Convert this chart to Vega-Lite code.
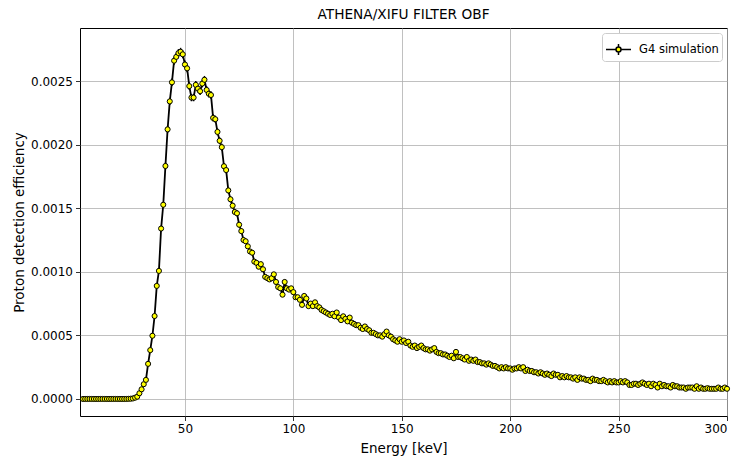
{
  "$schema": "https://vega.github.io/schema/vega-lite/v6.json",
  "width": 647,
  "height": 388,
  "autosize": {"type": "none"},
  "padding": {"left": 80, "top": 28, "right": 9, "bottom": 41},
  "background": "white",
  "config": {
    "font": "DejaVu Sans",
    "view": {"stroke": "black", "strokeWidth": 1},
    "axis": {
      "labelFont": "DejaVu Sans", "labelFontSize": 12, "labelColor": "black",
      "titleFont": "DejaVu Sans", "titleFontSize": 13.5, "titleFontWeight": "normal", "titleColor": "black",
      "tickColor": "black", "tickSize": 4.5, "tickWidth": 0.8,
      "gridColor": "#b0b0b0", "gridWidth": 0.8, "domain": false, "labelPadding": 3
    },
    "legend": {"labelFont": "DejaVu Sans", "labelFontSize": 11.5, "labelColor": "black"}
  },
  "title": {"text": "ATHENA/XIFU FILTER OBF", "fontSize": 13.7, "fontWeight": "normal", "font": "DejaVu Sans", "color": "black", "offset": 6},
  "data": {"values": [
    {"E":3,"v":0},{"E":4,"v":0},{"E":5,"v":0},{"E":6,"v":0},{"E":7,"v":0},{"E":8,"v":0},{"E":9,"v":0},{"E":10,"v":0},
    {"E":11,"v":0},{"E":12,"v":0},{"E":13,"v":0},{"E":14,"v":0},{"E":15,"v":0},{"E":16,"v":0},{"E":17,"v":0},{"E":18,"v":0},
    {"E":19,"v":0},{"E":20,"v":0},{"E":21,"v":0},{"E":22,"v":0},{"E":23,"v":0},{"E":24,"v":0.000001},{"E":25,"v":0.000002},
    {"E":26,"v":0.000004},{"E":27,"v":0.00001},{"E":28,"v":0.000018},{"E":29,"v":0.000045},{"E":30,"v":0.000076},
    {"E":31,"v":0.000116},{"E":32,"v":0.00015},{"E":33,"v":0.000276,"e":0.00001},{"E":34,"v":0.000384,"e":0.000012},
    {"E":35,"v":0.000497,"e":0.000013},{"E":36,"v":0.000652,"e":0.000015},{"E":37,"v":0.000889,"e":0.000018},
    {"E":38,"v":0.001007,"e":0.000019},{"E":39,"v":0.00134,"e":0.000022},{"E":40,"v":0.001527,"e":0.000023},
    {"E":41,"v":0.001832,"e":0.000026},{"E":42,"v":0.00212,"e":0.000028},{"E":43,"v":0.00234,"e":0.000029},
    {"E":44,"v":0.00249,"e":0.00003},{"E":45,"v":0.00266,"e":0.000031},{"E":46,"v":0.00269,"e":0.000031},
    {"E":47,"v":0.00272,"e":0.000031},{"E":48,"v":0.00273,"e":0.000031},{"E":49,"v":0.00271,"e":0.000031},
    {"E":50,"v":0.00263,"e":0.000031},{"E":51,"v":0.0026,"e":0.000031},{"E":52,"v":0.00246,"e":0.00003},
    {"E":53,"v":0.00237,"e":0.000029},{"E":54,"v":0.00237,"e":0.000029},{"E":55,"v":0.00247,"e":0.00003},
    {"E":56,"v":0.00244,"e":0.00003},{"E":57,"v":0.00242,"e":0.000029},{"E":58,"v":0.00248,"e":0.00003},
    {"E":59,"v":0.00251,"e":0.00003},{"E":60,"v":0.00243,"e":0.000029},{"E":61,"v":0.0024,"e":0.000029},
    {"E":62,"v":0.00239,"e":0.000029},{"E":63,"v":0.00221,"e":0.000028},{"E":64,"v":0.0022,"e":0.000028},
    {"E":65,"v":0.0021,"e":0.000027},{"E":66,"v":0.00203,"e":0.000027},{"E":67,"v":0.00198,"e":0.000027},
    {"E":68,"v":0.00183,"e":0.000026},{"E":69,"v":0.0018,"e":0.000025},{"E":70,"v":0.00164,"e":0.000024},
    {"E":71,"v":0.00157,"e":0.000024},{"E":72,"v":0.00152,"e":0.000023},{"E":73,"v":0.00147,"e":0.000023},
    {"E":74,"v":0.00146,"e":0.000023},{"E":75,"v":0.00137,"e":0.000022},{"E":76,"v":0.00132,"e":0.000022},
    {"E":77,"v":0.00125,"e":0.000021},{"E":78,"v":0.00124,"e":0.000021},{"E":79,"v":0.0012,"e":0.000021},
    {"E":80,"v":0.00116,"e":0.00002},{"E":81,"v":0.00115,"e":0.00002},{"E":82,"v":0.00108,"e":0.00002},
    {"E":83,"v":0.00107,"e":0.00002},{"E":84,"v":0.00104,"e":0.000019},{"E":85,"v":0.00106,"e":0.000019},
    {"E":86,"v":0.00102,"e":0.000019},{"E":87,"v":0.00096,"e":0.000019},{"E":88,"v":0.00095,"e":0.000018},
    {"E":89,"v":0.00094,"e":0.000018},{"E":90,"v":0.00095,"e":0.000018},{"E":91,"v":0.00098,"e":0.000019},
    {"E":92,"v":0.00092,"e":0.000018},{"E":93,"v":0.00088,"e":0.000018},{"E":94,"v":0.00087,"e":0.000018},
    {"E":95,"v":0.00082,"e":0.000017},{"E":96,"v":0.00092,"e":0.000018},{"E":97,"v":0.00087,"e":0.000018},
    {"E":98,"v":0.00086,"e":0.000018},{"E":99,"v":0.00087,"e":0.000018},{"E":100,"v":0.00084,"e":0.000017},
    {"E":101,"v":0.0008,"e":0.000017},{"E":102,"v":0.0008,"e":0.000017},{"E":103,"v":0.00078,"e":0.000017},
    {"E":104,"v":0.00074,"e":0.000016},{"E":105,"v":0.00081,"e":0.000017},{"E":106,"v":0.00079,"e":0.000017},
    {"E":107,"v":0.00073,"e":0.000016},{"E":108,"v":0.00075,"e":0.000016},{"E":109,"v":0.00073,"e":0.000016},
    {"E":110,"v":0.00076,"e":0.000016},
    {"E":111,"v":0.00073},{"E":112,"v":0.00072},{"E":113,"v":0.0007},{"E":114,"v":0.00069},{"E":115,"v":0.00068},
    {"E":116,"v":0.00067},{"E":117,"v":0.00066},{"E":118,"v":0.00067},{"E":119,"v":0.00065},{"E":120,"v":0.00068},
    {"E":121,"v":0.00064},{"E":122,"v":0.00062},{"E":123,"v":0.00065},{"E":124,"v":0.00063},{"E":125,"v":0.00061},
    {"E":126,"v":0.00064},{"E":127,"v":0.0006},{"E":128,"v":0.00059},{"E":129,"v":0.00058},{"E":130,"v":0.00058},
    {"E":131,"v":0.00056},{"E":132,"v":0.00055},{"E":133,"v":0.00057},{"E":134,"v":0.00055},{"E":135,"v":0.00054},
    {"E":136,"v":0.00052},{"E":137,"v":0.00052},{"E":138,"v":0.00051},{"E":139,"v":0.0005},{"E":140,"v":0.0005},
    {"E":141,"v":0.00049},{"E":142,"v":0.00051},{"E":143,"v":0.00053},{"E":144,"v":0.0005},{"E":145,"v":0.00049},
    {"E":146,"v":0.00047},{"E":147,"v":0.00046},{"E":148,"v":0.00045},{"E":149,"v":0.00047},{"E":150,"v":0.00045},
    {"E":151,"v":0.00046},{"E":152,"v":0.00044},{"E":153,"v":0.00045},{"E":154,"v":0.00042},{"E":155,"v":0.00041},
    {"E":156,"v":0.00042},{"E":157,"v":0.0004},{"E":158,"v":0.00041},{"E":159,"v":0.00042},{"E":160,"v":0.0004},
    {"E":161,"v":0.00039},{"E":162,"v":0.00039},{"E":163,"v":0.00038},{"E":164,"v":0.00039},{"E":165,"v":0.0004},
    {"E":166,"v":0.00037},{"E":167,"v":0.00036},{"E":168,"v":0.00036},{"E":169,"v":0.00035},{"E":170,"v":0.00035},
    {"E":171,"v":0.00034},{"E":172,"v":0.00033},{"E":173,"v":0.00034},{"E":174,"v":0.00032},{"E":175,"v":0.00037},
    {"E":176,"v":0.00033},{"E":177,"v":0.00033},{"E":178,"v":0.00032},{"E":179,"v":0.00031},{"E":180,"v":0.00033},
    {"E":181,"v":0.0003},{"E":182,"v":0.00031},{"E":183,"v":0.0003},{"E":184,"v":0.00031},{"E":185,"v":0.00029},
    {"E":186,"v":0.00029},{"E":187,"v":0.00028},{"E":188,"v":0.00028},{"E":189,"v":0.00027},{"E":190,"v":0.00028},
    {"E":191,"v":0.00027},{"E":192,"v":0.00026},{"E":193,"v":0.00026},{"E":194,"v":0.00025},{"E":195,"v":0.00024},
    {"E":196,"v":0.00025},{"E":197,"v":0.00024},{"E":198,"v":0.00025},{"E":199,"v":0.00024},{"E":200,"v":0.00024},
    {"E":201,"v":0.00023},{"E":202,"v":0.00024},{"E":203,"v":0.00024},{"E":204,"v":0.00025},{"E":205,"v":0.00024},
    {"E":206,"v":0.00025},{"E":207,"v":0.00022},{"E":208,"v":0.00023},{"E":209,"v":0.00022},{"E":210,"v":0.00022},
    {"E":211,"v":0.00021},{"E":212,"v":0.00021},{"E":213,"v":0.0002},{"E":214,"v":0.00021},{"E":215,"v":0.0002},
    {"E":216,"v":0.00019},{"E":217,"v":0.0002},{"E":218,"v":0.00019},{"E":219,"v":0.00018},{"E":220,"v":0.0002},
    {"E":221,"v":0.00019},{"E":222,"v":0.00019},{"E":223,"v":0.00017},{"E":224,"v":0.00018},{"E":225,"v":0.00017},
    {"E":226,"v":0.00018},{"E":227,"v":0.00017},{"E":228,"v":0.00017},{"E":229,"v":0.00016},{"E":230,"v":0.00017},
    {"E":231,"v":0.00015},{"E":232,"v":0.00017},{"E":233,"v":0.00016},{"E":234,"v":0.00016},{"E":235,"v":0.00015},
    {"E":236,"v":0.00015},{"E":237,"v":0.00014},{"E":238,"v":0.00016},{"E":239,"v":0.00015},{"E":240,"v":0.00015},
    {"E":241,"v":0.00014},{"E":242,"v":0.00014},{"E":243,"v":0.00015},{"E":244,"v":0.00014},{"E":245,"v":0.00013},
    {"E":246,"v":0.00014},{"E":247,"v":0.00013},{"E":248,"v":0.00014},{"E":249,"v":0.00013},{"E":250,"v":0.00013},
    {"E":251,"v":0.00014},{"E":252,"v":0.00013},{"E":253,"v":0.00014},{"E":254,"v":0.00013},{"E":255,"v":0.00011},
    {"E":256,"v":0.00011},{"E":257,"v":0.00012},{"E":258,"v":0.00012},{"E":259,"v":0.00011},{"E":260,"v":0.00012},
    {"E":261,"v":0.00013},{"E":262,"v":0.00012},{"E":263,"v":0.00011},{"E":264,"v":0.00012},{"E":265,"v":0.0001},
    {"E":266,"v":0.00012},{"E":267,"v":0.00011},{"E":268,"v":0.00009},{"E":269,"v":0.00012},{"E":270,"v":0.0001},
    {"E":271,"v":0.00011},{"E":272,"v":0.0001},{"E":273,"v":0.0001},{"E":274,"v":0.00009},{"E":275,"v":0.00011},
    {"E":276,"v":0.0001},{"E":277,"v":0.0001},{"E":278,"v":0.00009},{"E":279,"v":0.00009},{"E":280,"v":0.00009},
    {"E":281,"v":0.00008},{"E":282,"v":0.00009},{"E":283,"v":0.00009},{"E":284,"v":0.00009},{"E":285,"v":0.00008},
    {"E":286,"v":0.0001},{"E":287,"v":0.00008},{"E":288,"v":0.00009},{"E":289,"v":0.00008},{"E":290,"v":0.00008},
    {"E":291,"v":0.000085},{"E":292,"v":0.00008},{"E":293,"v":0.00008},{"E":294,"v":0.00008},{"E":295,"v":0.00008},
    {"E":296,"v":0.00009},{"E":297,"v":0.00008},{"E":298,"v":0.00008},{"E":299,"v":0.00009},{"E":300,"v":0.00008}
  ]},
  "encoding": {
    "x": {"field": "E", "type": "quantitative",
      "scale": {"domain": [1.6, 300], "nice": false, "zero": false},
      "axis": {"title": "Energy [keV]", "values": [50, 100, 150, 200, 250, 300], "titlePadding": 7}},
    "y": {"field": "v", "type": "quantitative",
      "scale": {"domain": [-0.000134, 0.002917], "nice": false, "zero": false},
      "axis": {"title": "Proton detection efficiency", "values": [0, 0.0005, 0.001, 0.0015, 0.002, 0.0025], "format": ".4f", "titlePadding": 4}}
  },
  "layer": [
    {
      "transform": [{"filter": "isValid(datum.e)"}],
      "mark": {"type": "errorbar", "color": "black", "thickness": 1.5},
      "encoding": {"yError": {"field": "e"}}
    },
    {
      "mark": {"type": "line", "color": "black", "strokeWidth": 1.8, "clip": true}
    },
    {
      "mark": {"type": "point", "shape": "circle", "filled": true, "fill": "yellow", "stroke": "black", "strokeWidth": 1, "size": 26, "opacity": 1},
      "encoding": {
        "stroke": {"datum": "G4 simulation", "type": "nominal",
          "scale": {"range": ["black"]},
          "legend": {"title": null, "orient": "top-right", "offset": 5,
            "symbolType": "M-1,0H-0.2M0.2,0H1M0,-0.44V-0.2M0,0.2V0.44M-0.2,0A0.2,0.2 0 1,1 0.2,0A0.2,0.2 0 1,1 -0.2,0Z",
            "symbolSize": 625, "symbolFillColor": "yellow", "symbolStrokeColor": "black", "symbolStrokeWidth": 1.5,
            "symbolOpacity": 1,
            "strokeColor": "#cccccc", "fillColor": "white", "padding": 3, "cornerRadius": 3, "labelOffset": 7}}
      }
    }
  ]
}
